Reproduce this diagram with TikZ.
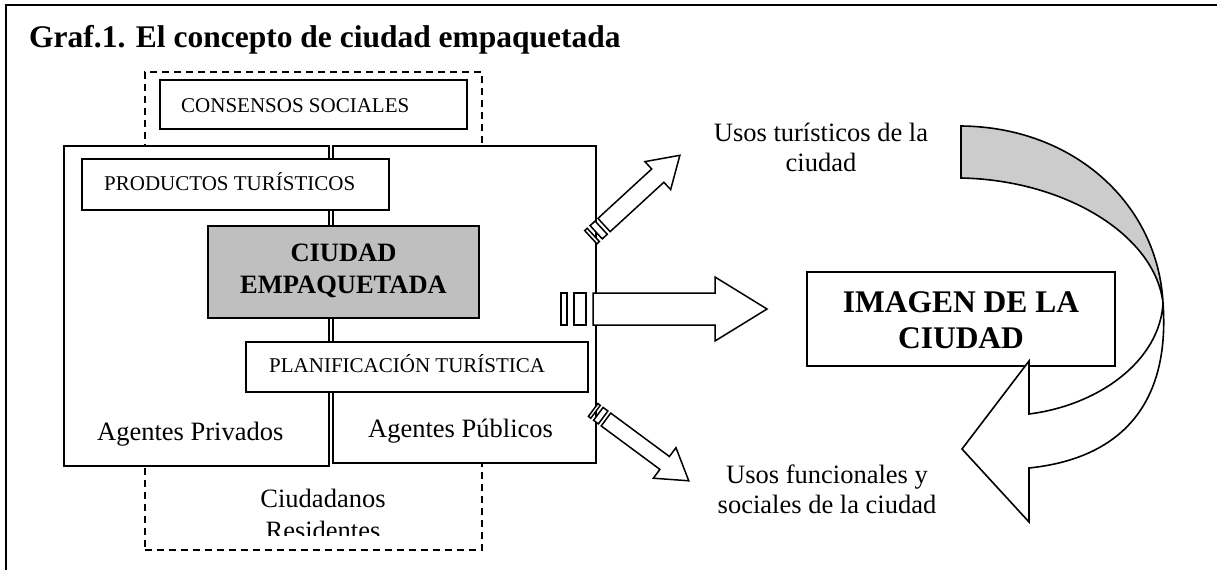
\documentclass[tikz,border=0pt]{standalone}
\usepackage{fontspec}
\setmainfont{Liberation Serif}
\newcommand{\stripedarrow}[7]{% #1 name, #2 origin, #3 angle, #4 body half-width, #5 head start, #6 tip, #7 head half-width
  \begin{scope}[shift={(#2)}, rotate=#3]
    \draw[arrowpart] (0,-#4) rectangle ({0.375*#4},#4);
    \draw[arrowpart] ({0.8125*#4},-#4) rectangle ({1.5625*#4},#4);
    \draw[arrowpart] ({2*#4},-#4) -- (#5,-#4) -- (#5,-#7) -- (#6,0) coordinate (#1) -- (#5,#7) -- (#5,#4) -- ({2*#4},#4) -- cycle;
  \end{scope}}
\begin{document}
\begin{tikzpicture}[x=1pt,y=-1pt,line join=miter,
  box/.style={draw, line width=1.6pt, fill=white, inner sep=0pt, outer sep=0pt},
  dashbox/.style={draw, line width=1.4pt, dash pattern=on 7pt off 5pt, inner sep=0pt},
  arrowpart/.style={draw, line width=1.5pt, fill=white},
  small/.style={inner sep=0pt, font=\fontsize{21}{24}\selectfont},
  mid/.style={inner sep=0pt, font=\fontsize{26.5}{30}\selectfont},
  midb/.style={inner sep=0pt, font=\fontsize{26.5}{30}\selectfont\bfseries},
  big/.style={inner sep=0pt, font=\fontsize{31.5}{36}\selectfont\bfseries}]
\useasboundingbox (0,0) rectangle (1217,570);
\fill[white] (0,0) rectangle (1217,570);
% outer frame
\draw[line width=1.8pt] (6,570) -- (6,5) -- (1217,5);
% title
\node[big, anchor=base west] (title) at (29,47) {Graf.1. El concepto de ciudad empaquetada};
% boxes
\node[dashbox, minimum width=337pt, minimum height=478pt] (ciud) at (313.5,311) {};
\node[box, minimum width=307pt, minimum height=49pt] (cons) at (313.5,104.5) {};
\node[box, minimum width=265pt, minimum height=320pt] (priv) at (196.5,306) {};
\node[box, minimum width=263pt, minimum height=317pt] (pub) at (464.5,304.5) {};
\node[box, minimum width=307pt, minimum height=51pt] (prod) at (235.5,184.5) {};
\node[box, fill=gray!50, minimum width=271pt, minimum height=92pt] (emp) at (343.5,272) {};
\node[box, minimum width=342pt, minimum height=50pt] (plan) at (417,367) {};
\node[box, minimum width=308pt, minimum height=94pt] (img) at (961,319) {};
% texts
\node[small, anchor=base west] (tcons) at (181,112) {CONSENSOS SOCIALES};
\node[small, anchor=base west] (tprod) at (104,190) {PRODUCTOS TURÍSTICOS};
\node[midb, anchor=base] (temp1) at (343.5,261) {CIUDAD};
\node[midb, anchor=base] (temp2) at (343.5,293) {EMPAQUETADA};
\node[small, anchor=base west] (tplan) at (269,372) {PLANIFICACIÓN TURÍSTICA};
\node[mid, anchor=base west] (tpriv) at (97,440) {Agentes Privados};
\node[mid, anchor=base west] (tpub) at (368,437) {Agentes Públicos};
\node[mid, anchor=base] (tciu1) at (323,507) {Ciudadanos};
\begin{scope}
  \clip (150,480) rectangle (478,535);
  \node[mid, anchor=base] (tciu2) at (323,539) {Residentes};
\end{scope}
\node[mid, anchor=base] (tuso1) at (821,141) {Usos turísticos de la};
\node[mid, anchor=base] (tuso2) at (821,171) {ciudad};
\node[big, anchor=base] (timg1) at (961,312) {IMAGEN DE LA};
\node[big, anchor=base] (timg2) at (961,348) {CIUDAD};
\node[mid, anchor=base] (tfun1) at (827,483) {Usos funcionales y};
\node[mid, anchor=base] (tfun2) at (827,513) {sociales de la ciudad};
% striped arrows
\stripedarrow{aup}{590.8,237.2}{42.6}{9}{91}{121}{19}
\stripedarrow{amid}{561,309}{0}{16}{154}{206}{32}
\stripedarrow{adown}{593.1,410}{-36.5}{8}{89}{119}{19}
% curved arrow
\coordinate (cross) at (1163,303);
\draw[line width=1.6pt, fill=gray!40] (961,126) .. controls (1075,127) and (1158,205) .. (cross)
  .. controls (1155,235) and (1065,180) .. (961,178) -- cycle;
\draw[line width=1.6pt, fill=white] (cross) .. controls (1170,400) and (1125,458) .. (1029,468)
  -- (1029,522) -- (962,449) -- (1029,361) -- (1029,414)
  .. controls (1100,405) and (1160,360) .. (cross) -- cycle;
\end{tikzpicture}
\end{document}
